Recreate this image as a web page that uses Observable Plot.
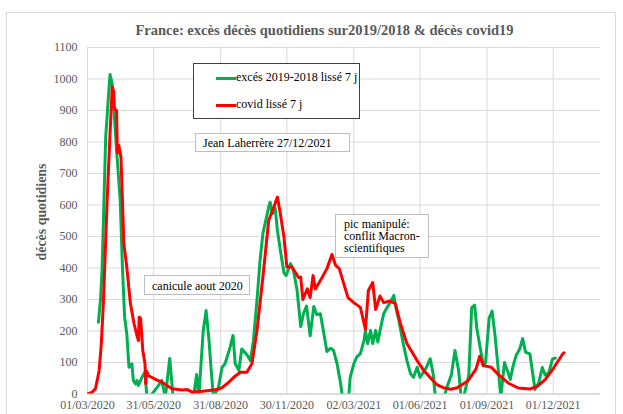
<!DOCTYPE html>
<html><head><meta charset="utf-8">
<script src="https://cdn.jsdelivr.net/npm/d3@7"></script>
<script src="https://cdn.jsdelivr.net/npm/@observablehq/plot@0.6"></script>
<style>
body{margin:0;background:#fff;}
#wrap{position:relative;width:623px;height:414px;overflow:hidden;font-family:"Liberation Serif","Times New Roman",Times,"Nimbus Roman","DejaVu Serif",serif;background:#fff;}
#frame{position:absolute;left:6px;top:12px;width:610px;height:420px;border:1px solid #d9d9d9;box-sizing:border-box;}
#chart{position:absolute;left:0;top:0;}
#chart svg text{font-family:"Liberation Serif","Times New Roman",Times,"Nimbus Roman","DejaVu Serif",serif;}
#title{position:absolute;left:0;width:649px;top:22px;text-align:center;font-weight:bold;font-size:14.5px;color:#595959;white-space:nowrap;}
#ylab{position:absolute;left:42px;top:212px;transform:translate(-50%,-50%) rotate(-90deg);font-weight:bold;font-size:13.9px;color:#595959;white-space:nowrap;}
.box{position:absolute;background:#fff;font-size:12px;color:#000;box-sizing:border-box;white-space:nowrap;}
#legend{left:193px;top:63px;width:167px;height:56px;border:1px solid #404040;}
.item{position:absolute;left:22px;height:14px;line-height:14px;}
.sw{display:inline-block;width:20px;height:3px;vertical-align:middle;margin-right:0;}
#note1{left:195px;top:133px;width:155px;height:19px;border:1px solid #bfbfbf;padding:2px 0 0 7px;line-height:14px;}
#note2{left:144px;top:275px;width:106px;height:20px;border:1px solid #bfbfbf;padding:3px 0 0 7px;line-height:14px;}
#note3{left:335px;top:214px;width:94px;height:44px;border:1px solid #bfbfbf;padding:3px 0 0 8px;line-height:12px;}
</style></head>
<body>
<div id="wrap">
  <div id="frame"></div>
  <div id="chart"></div>
  <div id="title"></div>
  <div id="ylab"></div>
  <div id="legend" class="box"></div>
  <div id="note1" class="box"></div>
  <div id="note2" class="box"></div>
  <div id="note3" class="box"></div>
</div>
<script>
const titleText = "France: excès décès quotidiens sur2019/2018 & décès covid19";
const yLabel = "décès quotidiens";
const seriesNames = ["excés 2019-2018 lissé 7 j", "covid lissé 7 j"];
const seriesColors = ["#00b050", "#ff0000"];
const notes = ["Jean Laherrère 27/12/2021", "canicule aout 2020", "pic manipulé:<br>conflit Macron-<br>scientifiques"];

const xTickDates = ["2020-03-01","2020-05-31","2020-08-31","2020-11-30","2021-03-02","2021-06-01","2021-09-01","2021-12-01"];
const xDomain = ["2020-03-01","2022-02-04"];
const yTicks = [0,100,200,300,400,500,600,700,800,900,1000,1100];

// excès 2019-2018 lissé 7 j (negative values fall below the axis and are clipped)
const excesDates = [
"2020-03-16","2020-03-19","2020-03-21","2020-03-23","2020-03-26","2020-03-30","2020-04-01","2020-04-04","2020-04-07","2020-04-10",
"2020-04-15","2020-04-18","2020-04-21","2020-04-24","2020-04-27","2020-05-01","2020-05-03","2020-05-06","2020-05-08","2020-05-10",
"2020-05-15","2020-05-19","2020-05-22","2020-05-29","2020-06-05","2020-06-11","2020-06-16","2020-06-22","2020-06-27","2020-07-04",
"2020-07-14","2020-07-24","2020-07-29","2020-08-01","2020-08-07","2020-08-11","2020-08-15","2020-08-18","2020-08-21","2020-08-28",
"2020-09-02","2020-09-06","2020-09-13","2020-09-17","2020-09-20","2020-09-25","2020-09-29","2020-10-06","2020-10-11","2020-10-15",
"2020-10-20","2020-10-24","2020-10-28","2020-11-01","2020-11-05","2020-11-07","2020-11-10","2020-11-14","2020-11-17","2020-11-21",
"2020-11-26","2020-11-29","2020-12-05","2020-12-09","2020-12-14","2020-12-19","2020-12-23","2020-12-27","2021-01-01","2021-01-06",
"2021-01-10","2021-01-15","2021-01-19","2021-01-24","2021-01-29","2021-02-02","2021-02-07","2021-02-12","2021-02-16","2021-02-22",
"2021-02-25","2021-03-02","2021-03-06","2021-03-11","2021-03-16","2021-03-18","2021-03-21","2021-03-25","2021-03-28","2021-04-01",
"2021-04-04","2021-04-08","2021-04-12","2021-04-17","2021-04-21","2021-04-26","2021-04-30","2021-05-03","2021-05-09","2021-05-14",
"2021-05-19","2021-05-23","2021-05-28","2021-06-01","2021-06-06","2021-06-10","2021-06-15","2021-06-19","2021-06-22","2021-06-29",
"2021-07-04","2021-07-08","2021-07-14","2021-07-19","2021-07-24","2021-07-27","2021-07-30","2021-08-02","2021-08-07","2021-08-11",
"2021-08-15","2021-08-18","2021-08-23","2021-08-27","2021-08-30","2021-09-04","2021-09-08","2021-09-12","2021-09-16","2021-09-20",
"2021-09-25","2021-09-30","2021-10-03","2021-10-07","2021-10-11","2021-10-16","2021-10-20","2021-10-24","2021-10-30","2021-11-04",
"2021-11-06","2021-11-11","2021-11-16","2021-11-20","2021-11-25","2021-11-30","2021-12-04"];
const excesValues = [
228,303,392,561,815,953,1014,985,879,773,
614,403,244,191,85,96,43,32,43,27,
54,70,-20,1,22,43,-10,113,-20,-40,
-40,-20,62,-10,200,265,170,75,-10,22,
85,96,149,186,96,75,143,125,106,170,
300,420,509,551,593,609,572,590,519,456,
385,376,414,392,330,214,257,279,185,278,
252,255,203,135,145,139,96,31,-40,-40,
53,96,117,128,170,202,160,202,160,202,
165,212,255,276,290,313,260,233,159,106,
64,53,85,53,70,86,112,64,-10,-40,
-10,22,60,138,75,0,-20,11,60,274,
282,209,143,90,100,241,263,187,90,-10,
100,68,46,90,122,143,176,133,127,46,
14,35,84,60,68,111,114];

// covid lissé 7 j
const covidDates = [
"2020-03-01","2020-03-07","2020-03-12","2020-03-17","2020-03-20","2020-03-23","2020-03-28","2020-04-01","2020-04-04","2020-04-06",
"2020-04-07","2020-04-10","2020-04-11","2020-04-13","2020-04-16","2020-04-20","2020-04-24","2020-04-29","2020-05-04","2020-05-08",
"2020-05-10","2020-05-11","2020-05-13","2020-05-16","2020-05-19","2020-05-20","2020-05-21","2020-05-24","2020-06-04","2020-06-11",
"2020-06-25","2020-07-09","2020-07-16","2020-07-23","2020-08-06","2020-08-18","2020-08-26","2020-09-02","2020-09-10","2020-09-18",
"2020-09-27","2020-10-06","2020-10-13","2020-10-20","2020-10-29","2020-11-05","2020-11-12","2020-11-17","2020-11-21","2020-11-26",
"2020-11-30","2020-12-07","2020-12-16","2020-12-19","2020-12-22","2020-12-28","2021-01-01","2021-01-05","2021-01-08","2021-01-15",
"2021-01-24","2021-01-31","2021-02-05","2021-02-10","2021-02-17","2021-02-22","2021-03-02","2021-03-11","2021-03-18","2021-03-22",
"2021-03-28","2021-04-01","2021-04-07","2021-04-12","2021-04-21","2021-04-28","2021-05-05","2021-05-14","2021-05-28","2021-06-06",
"2021-06-17","2021-06-24","2021-07-03","2021-07-13","2021-07-22","2021-08-06","2021-08-17","2021-08-22","2021-08-27","2021-09-07",
"2021-09-16","2021-09-30","2021-10-14","2021-10-30","2021-11-09","2021-11-20","2021-12-02","2021-12-14","2021-12-16"];
const covidValues = [
0,5,17,74,160,297,614,827,975,960,
905,900,765,790,752,477,403,287,223,185,
170,244,240,138,96,33,73,58,45,38,
17,13,14,6,9,12,14,20,35,53,
69,69,96,202,392,551,593,625,573,498,
403,403,370,371,300,334,306,376,333,360,
398,443,408,398,344,306,290,275,205,329,
354,268,311,290,295,287,224,160,106,75,
47,30,20,15,20,42,80,120,90,85,
63,35,19,16,24,46,84,127,131];

const parse = d => new Date(d + "T00:00:00Z");
const excesData = excesDates.map((d, i) => ({date: parse(d), value: excesValues[i]}));
const covidData = covidDates.map((d, i) => ({date: parse(d), value: covidValues[i]}));
const xTicks = xTickDates.map(parse);
const serif = '"Liberation Serif","Times New Roman",Times,"Nimbus Roman","DejaVu Serif",serif';

const chart = Plot.plot({
  width: 623, height: 414,
  marginLeft: 87, marginRight: 23, marginTop: 47, marginBottom: 20.5,
  style: {fontFamily: serif, fontSize: "12px", color: "#595959", background: "transparent", overflow: "visible"},
  x: {type: "utc", domain: xDomain.map(parse)},
  y: {domain: [0, 1100]},
  marks: [
    Plot.gridX(xTicks, {stroke: "#d9d9d9", strokeOpacity: 1}),
    Plot.gridY(yTicks, {stroke: "#d9d9d9", strokeOpacity: 1}),
    Plot.ruleY([0], {stroke: "#c8c8c8"}),
    Plot.axisY(yTicks, {tickSize: 0, tickPadding: 10, label: null, fill: "#595959", tickFormat: d => String(d), fontFamily: serif}),
    Plot.axisX(xTicks, {tickSize: 0, tickPadding: 6, label: null, fill: "#595959", tickFormat: d3.utcFormat("%d/%m/%Y"), fontFamily: serif}),
    Plot.line(excesData, {x: "date", y: "value", stroke: seriesColors[0], strokeWidth: 3, strokeLinejoin: "round", clip: true}),
    Plot.line(covidData, {x: "date", y: "value", stroke: seriesColors[1], strokeWidth: 3, strokeLinejoin: "round", clip: true})
  ]
});
document.getElementById("chart").appendChild(chart);
document.getElementById("title").textContent = titleText;
document.getElementById("ylab").textContent = yLabel;
const leg = document.getElementById("legend");
seriesNames.forEach((name, i) => {
  const it = document.createElement("div");
  it.className = "item";
  it.style.top = (i === 0 ? 6 : 33) + "px";
  it.innerHTML = `<span class="sw" style="background:${seriesColors[i]}"></span>${name}`;
  leg.appendChild(it);
});
document.getElementById("note1").textContent = notes[0];
document.getElementById("note2").textContent = notes[1];
document.getElementById("note3").innerHTML = notes[2];
</script>
</body></html>
